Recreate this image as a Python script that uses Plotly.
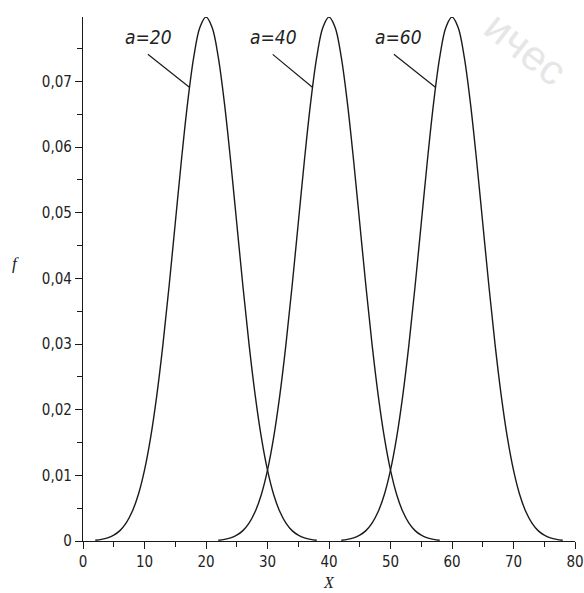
import plotly.graph_objects as go

# sample grid (X) for each curve
x20 = list(range(2, 39))
x40 = list(range(22, 59))
x60 = list(range(42, 79))

# density values (symmetric bell, peak ~0.0798)
f20 = [0.00012, 0.00025, 0.00048, 0.00089, 0.00158, 0.00271, 0.00448, 0.00709, 0.01080,
       0.01579, 0.02219, 0.02995, 0.03884, 0.04839, 0.05794, 0.06664, 0.07365, 0.07821,
       0.07979,
       0.07821, 0.07365, 0.06664, 0.05794, 0.04839, 0.03884, 0.02995, 0.02219, 0.01579,
       0.01080, 0.00709, 0.00448, 0.00271, 0.00158, 0.00089, 0.00048, 0.00025, 0.00012]
f40 = [0.00012, 0.00025, 0.00048, 0.00089, 0.00158, 0.00271, 0.00448, 0.00709, 0.01080,
       0.01579, 0.02219, 0.02995, 0.03884, 0.04839, 0.05794, 0.06664, 0.07365, 0.07821,
       0.07979,
       0.07821, 0.07365, 0.06664, 0.05794, 0.04839, 0.03884, 0.02995, 0.02219, 0.01579,
       0.01080, 0.00709, 0.00448, 0.00271, 0.00158, 0.00089, 0.00048, 0.00025, 0.00012]
f60 = [0.00012, 0.00025, 0.00048, 0.00089, 0.00158, 0.00271, 0.00448, 0.00709, 0.01080,
       0.01579, 0.02219, 0.02995, 0.03884, 0.04839, 0.05794, 0.06664, 0.07365, 0.07821,
       0.07979,
       0.07821, 0.07365, 0.06664, 0.05794, 0.04839, 0.03884, 0.02995, 0.02219, 0.01579,
       0.01080, 0.00709, 0.00448, 0.00271, 0.00158, 0.00089, 0.00048, 0.00025, 0.00012]

labels = ["a=20", "a=40", "a=60"]
x_ticks = [0, 10, 20, 30, 40, 50, 60, 70, 80]
x_ticktext = ["0", "10", "20", "30", "40", "50", "60", "70", "80"]
y_ticks = [0, 0.01, 0.02, 0.03, 0.04, 0.05, 0.06, 0.07]
y_ticktext = ["0", "0,01", "0,02", "0,03", "0,04", "0,05", "0,06", "0,07"]

# label / leader-line anchors (data coordinates)
label_pos = [(10.6, 0.0768), (31.0, 0.0768), (51.3, 0.0768)]
leader_tail = [(10.3, 0.0743), (30.6, 0.0743), (50.3, 0.0743)]
leader_head = [(17.3, 0.0691), (37.3, 0.0691), (57.3, 0.0691)]

LINE = "#1a1a1a"
TICKFONT = dict(family="DejaVu Sans Condensed, Liberation Sans Narrow, DejaVu Sans", size=15, color="#222")

fig = go.Figure()
for xs, ys in [(x20, f20), (x40, f40), (x60, f60)]:
    fig.add_trace(go.Scatter(x=xs, y=ys, mode="lines", line=dict(color=LINE, width=1.4, shape="spline"),
                             showlegend=False, hoverinfo="skip"))

annotations = []
for lab, (tx, ty), (sx, sy), (hx, hy) in zip(labels, label_pos, leader_tail, leader_head):
    annotations.append(dict(x=tx, y=ty, xref="x", yref="y", text="<i>" + lab + "</i>", showarrow=False,
                            font=dict(family="DejaVu Sans Condensed, Liberation Sans, Arial", size=19, color="#222"),
                            xanchor="center", yanchor="middle"))
    annotations.append(dict(x=hx, y=hy, ax=sx, ay=sy, xref="x", yref="y", axref="x", ayref="y",
                            text="", showarrow=True, arrowhead=0, arrowwidth=1.2, arrowcolor=LINE,
                            standoff=0, startstandoff=0))
# axis titles
annotations.append(dict(x=-0.137, y=0.53, xref="paper", yref="paper", text="<i>f</i>", showarrow=False,
                        font=dict(family="Liberation Serif, Times New Roman", size=17, color="#222"),
                        xanchor="center", yanchor="middle"))
annotations.append(dict(x=0.5, y=-0.079, xref="paper", yref="paper", text="<i>X</i>", showarrow=False,
                        font=dict(family="Liberation Serif, Times New Roman", size=16, color="#222"),
                        xanchor="center", yanchor="middle"))
# faint scan watermark
annotations.append(dict(x=0.9, y=0.94, xref="paper", yref="paper", text="ичес", showarrow=False,
                        textangle=38, font=dict(family="Liberation Sans, Arial", size=42, color="#e6e6e6"),
                        xanchor="center", yanchor="middle"))

fig.update_layout(
    width=584, height=593,
    margin=dict(l=83, r=9, t=17, b=52),
    paper_bgcolor="white", plot_bgcolor="white",
    annotations=annotations,
    xaxis=dict(range=[0, 80], tickvals=x_ticks, ticktext=x_ticktext, showgrid=False, zeroline=False,
               automargin=False, ticklabeloverflow="allow",
               showline=True, linecolor=LINE, linewidth=1.3, ticks="outside", ticklen=7, tickwidth=1.2,
               tickcolor=LINE, tickfont=TICKFONT,
               minor=dict(dtick=5, tick0=0, ticks="outside", ticklen=5, tickwidth=1.2, tickcolor=LINE)),
    yaxis=dict(range=[0, 0.0798], tickvals=y_ticks, ticktext=y_ticktext, showgrid=False, zeroline=False,
               automargin=False, ticklabeloverflow="allow",
               showline=True, linecolor=LINE, linewidth=1.3, ticks="outside", ticklen=7, tickwidth=1.2,
               tickcolor=LINE, tickfont=TICKFONT,
               minor=dict(dtick=0.005, tick0=0, ticks="outside", ticklen=5, tickwidth=1.2, tickcolor=LINE)),
)

fig.write_html("out.html", config={"displayModeBar": False},
               post_script="document.body.style.margin='0px';document.body.style.overflow='hidden';")
